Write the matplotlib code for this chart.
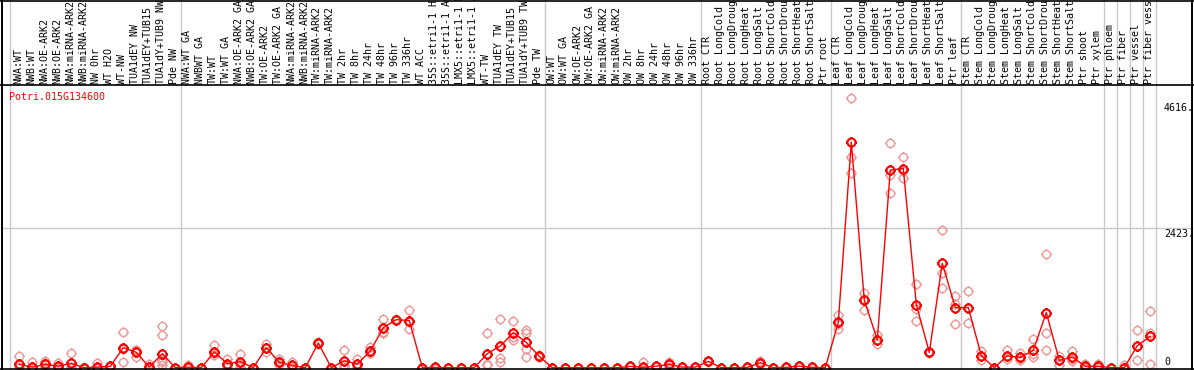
import matplotlib
matplotlib.use("Agg")
import matplotlib.pyplot as plt
from matplotlib.path import Path
from matplotlib.transforms import blended_transform_factory

# ---------------- data ----------------
gene_name = "Potri.015G134600"

labels = [
    "NWA:WT", "NWB:WT", "NWA:OE-ARK2", "NWB:OE-ARK2", "NWA:miRNA-ARK2",
    "NWB:miRNA-ARK2", "NW 0hr", "WT H2O", "WT-NW", "TUA1dEY NW",
    "TUA1dEY+TUB15", "TUA1dY+TUB9 NW", "Pde NW",
    "NWA:WT GA", "NWBWT GA", "TW:WT", "TW:WT GA", "NWA:OE-ARK2 GA",
    "NWB:OE-ARK2 GA", "TW:OE-ARK2", "TW:OE-ARK2 GA", "NWA:miRNA-ARK2",
    "NWB:miRNA-ARK2", "TW:miRNA-ARK2", "TW:miRNA-ARK2", "TW 2hr", "TW 8hr",
    "TW 24hr", "TW 48hr", "TW 96hr", "TW 336hr", "WT ACC", "35S::etri1-1 H2",
    "35S::etri1-1 AC", "LMX5::etri1-1 H", "LMX5::etri1-1 A", "WT-TW",
    "TUA1dEY TW", "TUA1dEY+TUB15", "TUA1dY+TUB9 TW", "Pde TW",
    "OW:WT", "OW:WT GA", "OW:OE-ARK2", "OW:OE-ARK2 GA", "OW:miRNA-ARK2",
    "OW:miRNA-ARK2", "OW 2hr", "OW 8hr", "OW 24hr", "OW 48hr", "OW 96hr",
    "OW 336hr",
    "Root CTR", "Root LongCold", "Root LongDroug", "Root LongHeat",
    "Root LongSalt", "Root ShortCold", "Root ShortDrou", "Root ShortHeat",
    "Root ShortSalt", "Ptr root",
    "Leaf CTR", "Leaf LongCold", "Leaf LongDroug", "Leaf LongHeat",
    "Leaf LongSalt", "Leaf ShortCold", "Leaf ShortDrou", "Leaf ShortHeat",
    "Leaf ShortSalt", "Ptr leaf",
    "Stem CTR", "Stem LongCold", "Stem LongDroug", "Stem LongHeat",
    "Stem LongSalt", "Stem ShortCold", "Stem ShortDrou", "Stem ShortHeat",
    "Stem ShortSalt", "Ptr shoot", "Ptr xylem",
    "Ptr phloem", "Ptr fiber", "Ptr vessel", "Ptr fiber vess",
]

means = [
    57, 10, 57, 28, 75, 0, 10, 23, 348, 267, 10, 244, 0,
    10, 0, 272, 70, 105, 0, 348, 92, 40, 0, 429, 0, 122, 63, 290, 697, 836,
    819, 0, 5, 0, 0, 0, 244, 377, 610, 441, 197,
    0, 0, 0, 0, 0, 0, 23, 5, 28, 57, 10, 10,
    110, 0, 0, 5, 87, 0, 5, 28, 5, 0,
    790, 3922, 1173, 488, 3434, 3462, 1098, 267, 1813, 1046,
    1046, 209, 0, 206, 180, 302, 958, 127, 186, 23, 23,
    0, 0, 383, 546,
]

replicates = [
    [197, 57, 10], [92, 10, 0], [110, 80, 20], [80, 20, 0], [261, 20, 0],
    [10, 0, 0], [80, 0, 0], [23, 10, 30], [621, 92, 330], [314, 185, 300],
    [57, 0, 0], [732, 575, 127, 92, 50], [0, 0, 0],
    [40, 10, 0], [0, 0, 0], [389, 214, 260], [150, 10, 50], [232, 10, 70],
    [0, 0, 0], [418, 348, 280], [150, 40, 90], [92, 20, 10], [0, 0, 0],
    [429, 420, 440], [0, 0, 0], [314, 40, 10], [150, 20, 20], [359, 260, 250],
    [854, 610, 627], [836, 830, 840], [999, 668, 790], [0, 0, 0], [5, 0, 0],
    [0, 0, 0], [0, 0, 0], [0, 0, 0], [610, 70, 50], [854, 160, 98],
    [807, 534, 490], [650, 600, 185, 330], [214, 190, 185],
    [0, 0, 0], [0, 0, 0], [0, 0, 0], [0, 0, 0], [0, 0, 0], [0, 0, 0],
    [23, 10, 30], [92, 10, 0], [28, 20, 30], [98, 50, 20], [10, 5, 10],
    [10, 5, 10],
    [110, 100, 120], [0, 0, 0], [0, 0, 0], [5, 0, 10], [110, 80, 70],
    [0, 0, 0], [5, 0, 10], [28, 20, 30], [5, 0, 10], [0, 0, 0],
    [912, 680, 760], [4689, 3660, 3392], [1301, 1011, 1200], [563, 418, 480],
    [3904, 3352, 3032], [3671, 3294, 3420], [1447, 1028, 807], [267, 280, 250],
    [2388, 1638, 1394], [1248, 1100, 767],
    [1330, 784, 1046], [296, 139, 200], [0, 0, 0], [302, 157, 200],
    [255, 127, 170], [493, 185, 230], [1970, 610, 314], [203, 40, 140],
    [284, 150, 120], [70, 10, 0], [70, 10, 0],
    [0, 0, 0], [40, 0, 0], [650, 127, 380], [981, 610, 58],
]

group_ends = [12, 40, 52, 62, 72, 83, 84, 85, 86, 87]
ytick_values = [4616, 2423, 0]
ytick_labels = ["4616.", "2423.", "0"]

# ---------------- figure ----------------
W, H, DPI = 1194, 370, 100
fig = plt.figure(figsize=(W / DPI, H / DPI), dpi=DPI)
ax = fig.add_axes([0, 0, 1, 1])
ax.axis("off")

x0_px, step_px = 19.3, 13.0
zero_px = 367.7
per_px = 2423 / 139.4
ax.set_xlim((0 - x0_px) / step_px, (W - x0_px) / step_px)
ax.set_ylim(-(H - zero_px) * per_px, zero_px * per_px)

mono = "DejaVu Sans Mono"
fs = 7.2
black = "black"
grid = "#c8c8c8"
trA = ax.transAxes
tr_xdata = blended_transform_factory(ax.transData, ax.transAxes)
tr_ydata = blended_transform_factory(ax.transAxes, ax.transData)

def fy(px):
    return 1 - px / H

def fx(px):
    return px / W

# vertical gray group separators (full height)
sep_pos = [-0.72] + [e + 0.41 for e in group_ends]
for s in sep_pos:
    ax.plot([s, s], [fy(0), fy(368.5)], color=grid, lw=1, transform=tr_xdata,
            zorder=1, clip_on=False)

# horizontal gray gridline
ax.plot([fx(1.5), fx(1191.5)], [2423, 2423], color=grid, lw=1,
        transform=tr_ydata, zorder=1)

# frame lines
for ypx in (0.5, 85.0, 368.5):
    ax.plot([0, 1], [fy(ypx), fy(ypx)], color=black, lw=1.2, transform=trA,
            zorder=5, clip_on=False)
for xpx in (1.5, 1191.5):
    ax.plot([fx(xpx), fx(xpx)], [0, 1], color=black, lw=1.4, transform=trA,
            zorder=5, clip_on=False)

# category labels
for i, lab in enumerate(labels):
    ax.text(i - 0.1, fy(83.5), lab, rotation=90, ha="center", va="bottom",
            fontfamily=mono, fontsize=fs, color=black, transform=tr_xdata,
            clip_on=False)

# y labels at right
ax.text(fx(1164), 4616 - 0.5 * per_px, ytick_labels[0], ha="left", va="top",
        fontfamily=mono, fontsize=fs, color=black, transform=tr_ydata)
ax.text(fx(1164), 2423 - 0.5 * per_px, ytick_labels[1], ha="left", va="top",
        fontfamily=mono, fontsize=fs, color=black, transform=tr_ydata)
ax.text(fx(1164), 0 + 2.5 * per_px, ytick_labels[2], ha="left", va="baseline",
        fontfamily=mono, fontsize=fs, color=black, transform=tr_ydata)

# gene name
ax.text(fx(9), fy(99.5), gene_name, ha="left", va="baseline", fontfamily=mono,
        fontsize=fs, color="red", transform=trA)

# custom marker: circle with four outer ticks
circ = Path.unit_circle()
verts = list(circ.vertices)
codes = list(circ.codes)
for dx, dy in [(1, 0), (-1, 0), (0, 1), (0, -1)]:
    verts += [(dx * 1.0, dy * 1.0), (dx * 1.35, dy * 1.35)]
    codes += [Path.MOVETO, Path.LINETO]
marker = Path(verts, codes)

rx, ry = [], []
for i, reps in enumerate(replicates):
    for v in reps:
        rx.append(i)
        ry.append(v)
ax.plot(rx, ry, linestyle="none", marker=marker, ms=7.8, mfc="none",
        mec="#ef9696", mew=1.0, zorder=3)

ax.plot(range(len(means)), means, color="red", lw=1.0, zorder=4)
ax.plot(range(len(means)), means, linestyle="none", marker=marker, ms=7.8,
        mfc="none", mec="red", mew=1.5, zorder=4)

fig.savefig("out.png", dpi=DPI)
